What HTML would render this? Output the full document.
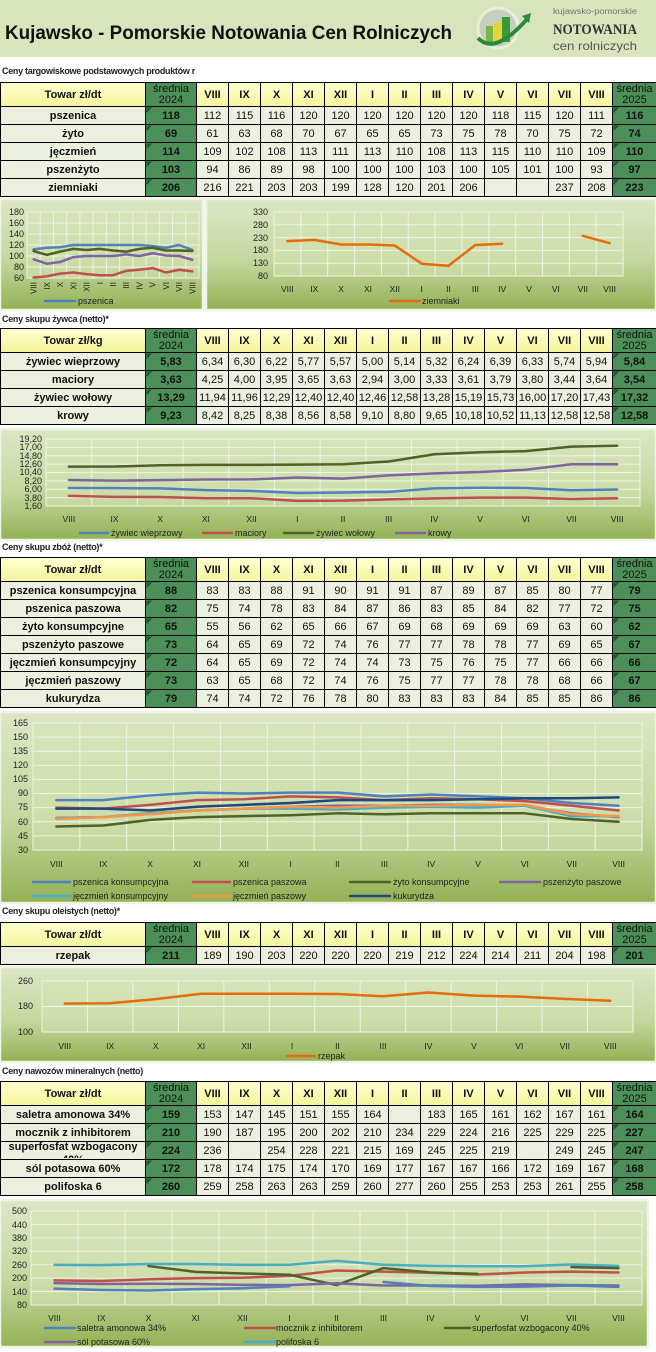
<!DOCTYPE html>
<html><head><meta charset="utf-8">
<style>
*{margin:0;padding:0;box-sizing:border-box}
body{width:656px;height:1352px;position:relative;background:#fff;font-family:"Liberation Sans",Arial,sans-serif;overflow:hidden}
.cap{position:absolute;left:2px;font-size:9px;font-weight:bold;color:#222;letter-spacing:-0.3px;white-space:nowrap}
table{position:absolute;left:0;border-collapse:collapse;table-layout:fixed;width:656px;font-size:11px;color:#111}
td{border:1px solid #000;text-align:center;padding:0;height:18px;background:#ebf1de;white-space:nowrap;overflow:hidden}
td.n{font-weight:bold}
td.s{background:#4d8f58;font-weight:bold;color:#111;background-image:linear-gradient(135deg,#1f5a2a 0,#1f5a2a 4px,transparent 4px)}
tr.h td{height:24px;font-weight:bold;background:linear-gradient(#ffffd0,#f4f49a);line-height:12px;white-space:normal}
tr.h td.s{background:#4d8f58;font-weight:normal;color:#111;font-size:11px;white-space:normal;line-height:11px}
</style></head><body>
<div style="position:absolute;left:0;top:0;width:656px;height:57px;background:#d8e4bc"></div>
<svg style="position:absolute;left:0;top:0" width="656" height="60">
<text x="5" y="39" font-family="Liberation Sans" font-size="19" font-weight="bold" fill="#111" textLength="447" lengthAdjust="spacingAndGlyphs">Kujawsko - Pomorskie Notowania Cen Rolniczych</text>
<circle cx="498" cy="28" r="20" fill="#c8cfc0" stroke="#e8efd8" stroke-width="3"/>
<rect x="486" y="26" width="7" height="16" fill="#7ab648"/>
<rect x="494" y="22" width="7" height="20" fill="#e6d23a"/>
<rect x="502" y="17" width="8" height="25" fill="#3a9a3a"/>
<path d="M478 38 Q495 56 528 18" stroke="#2a8a3a" stroke-width="4" fill="none"/>
<path d="M522 16 L531 13 L529 23 Z" fill="#2a8a3a"/>
<text x="553" y="14" font-size="8" fill="#777" textLength="84" lengthAdjust="spacingAndGlyphs">kujawsko-pomorskie</text>
<text x="553" y="34" font-size="15" font-weight="bold" fill="#333" font-family="Liberation Serif" textLength="84" lengthAdjust="spacingAndGlyphs">NOTOWANIA</text>
<text x="553" y="50" font-size="12" fill="#555" textLength="84" lengthAdjust="spacingAndGlyphs">cen rolniczych</text>
</svg>

<div class="cap" style="top:66px">Ceny targowiskowe podstawowych produktów r</div>
<table style="top:82px">
<colgroup><col style="width:145px"><col style="width:51px"><col span="13" style="width:32px"><col style="width:44px"></colgroup>
<tr class="h"><td>Towar zł/dt</td><td class="s">średnia 2024</td><td>VIII</td><td>IX</td><td>X</td><td>XI</td><td>XII</td><td>I</td><td>II</td><td>III</td><td>IV</td><td>V</td><td>VI</td><td>VII</td><td>VIII</td><td class="s">średnia 2025</td></tr>
<tr><td class="n">pszenica</td><td class="s">118</td><td>112</td><td>115</td><td>116</td><td>120</td><td>120</td><td>120</td><td>120</td><td>120</td><td>120</td><td>118</td><td>115</td><td>120</td><td>111</td><td class="s">116</td></tr>
<tr><td class="n">żyto</td><td class="s">69</td><td>61</td><td>63</td><td>68</td><td>70</td><td>67</td><td>65</td><td>65</td><td>73</td><td>75</td><td>78</td><td>70</td><td>75</td><td>72</td><td class="s">74</td></tr>
<tr><td class="n">jęczmień</td><td class="s">114</td><td>109</td><td>102</td><td>108</td><td>113</td><td>111</td><td>113</td><td>110</td><td>108</td><td>113</td><td>115</td><td>110</td><td>110</td><td>109</td><td class="s">110</td></tr>
<tr><td class="n">pszenżyto</td><td class="s">103</td><td>94</td><td>86</td><td>89</td><td>98</td><td>100</td><td>100</td><td>100</td><td>103</td><td>100</td><td>105</td><td>101</td><td>100</td><td>93</td><td class="s">97</td></tr>
<tr><td class="n">ziemniaki</td><td class="s">206</td><td>216</td><td>221</td><td>203</td><td>203</td><td>199</td><td>128</td><td>120</td><td>201</td><td>206</td><td></td><td></td><td>237</td><td>208</td><td class="s">223</td></tr>
</table>

<div class="cap" style="top:314px">Ceny skupu żywca (netto)*</div>
<table style="top:328px">
<colgroup><col style="width:145px"><col style="width:51px"><col span="13" style="width:32px"><col style="width:44px"></colgroup>
<tr class="h"><td>Towar zł/kg</td><td class="s">średnia 2024</td><td>VIII</td><td>IX</td><td>X</td><td>XI</td><td>XII</td><td>I</td><td>II</td><td>III</td><td>IV</td><td>V</td><td>VI</td><td>VII</td><td>VIII</td><td class="s">średnia 2025</td></tr>
<tr><td class="n">żywiec wieprzowy</td><td class="s">5,83</td><td>6,34</td><td>6,30</td><td>6,22</td><td>5,77</td><td>5,57</td><td>5,00</td><td>5,14</td><td>5,32</td><td>6,24</td><td>6,39</td><td>6,33</td><td>5,74</td><td>5,94</td><td class="s">5,84</td></tr>
<tr><td class="n">maciory</td><td class="s">3,63</td><td>4,25</td><td>4,00</td><td>3,95</td><td>3,65</td><td>3,63</td><td>2,94</td><td>3,00</td><td>3,33</td><td>3,61</td><td>3,79</td><td>3,80</td><td>3,44</td><td>3,64</td><td class="s">3,54</td></tr>
<tr><td class="n">żywiec wołowy</td><td class="s">13,29</td><td>11,94</td><td>11,96</td><td>12,29</td><td>12,40</td><td>12,40</td><td>12,46</td><td>12,58</td><td>13,28</td><td>15,19</td><td>15,73</td><td>16,00</td><td>17,20</td><td>17,43</td><td class="s">17,32</td></tr>
<tr><td class="n">krowy</td><td class="s">9,23</td><td>8,42</td><td>8,25</td><td>8,38</td><td>8,56</td><td>8,58</td><td>9,10</td><td>8,80</td><td>9,65</td><td>10,18</td><td>10,52</td><td>11,13</td><td>12,58</td><td>12,58</td><td class="s">12,58</td></tr>
</table>

<div class="cap" style="top:542px">Ceny skupu zbóż (netto)*</div>
<table style="top:557px">
<colgroup><col style="width:145px"><col style="width:51px"><col span="13" style="width:32px"><col style="width:44px"></colgroup>
<tr class="h"><td>Towar zł/dt</td><td class="s">średnia 2024</td><td>VIII</td><td>IX</td><td>X</td><td>XI</td><td>XII</td><td>I</td><td>II</td><td>III</td><td>IV</td><td>V</td><td>VI</td><td>VII</td><td>VIII</td><td class="s">średnia 2025</td></tr>
<tr><td class="n">pszenica konsumpcyjna</td><td class="s">88</td><td>83</td><td>83</td><td>88</td><td>91</td><td>90</td><td>91</td><td>91</td><td>87</td><td>89</td><td>87</td><td>85</td><td>80</td><td>77</td><td class="s">79</td></tr>
<tr><td class="n">pszenica paszowa</td><td class="s">82</td><td>75</td><td>74</td><td>78</td><td>83</td><td>84</td><td>87</td><td>86</td><td>83</td><td>85</td><td>84</td><td>82</td><td>77</td><td>72</td><td class="s">75</td></tr>
<tr><td class="n">żyto konsumpcyjne</td><td class="s">65</td><td>55</td><td>56</td><td>62</td><td>65</td><td>66</td><td>67</td><td>69</td><td>68</td><td>69</td><td>69</td><td>69</td><td>63</td><td>60</td><td class="s">62</td></tr>
<tr><td class="n">pszenżyto paszowe</td><td class="s">73</td><td>64</td><td>65</td><td>69</td><td>72</td><td>74</td><td>76</td><td>77</td><td>77</td><td>78</td><td>78</td><td>77</td><td>69</td><td>65</td><td class="s">67</td></tr>
<tr><td class="n">jęczmień konsumpcyjny</td><td class="s">72</td><td>64</td><td>65</td><td>69</td><td>72</td><td>74</td><td>74</td><td>73</td><td>75</td><td>76</td><td>75</td><td>77</td><td>66</td><td>66</td><td class="s">66</td></tr>
<tr><td class="n">jęczmień paszowy</td><td class="s">73</td><td>63</td><td>65</td><td>68</td><td>72</td><td>74</td><td>76</td><td>75</td><td>77</td><td>77</td><td>78</td><td>78</td><td>68</td><td>66</td><td class="s">67</td></tr>
<tr><td class="n">kukurydza</td><td class="s">79</td><td>74</td><td>74</td><td>72</td><td>76</td><td>78</td><td>80</td><td>83</td><td>83</td><td>83</td><td>84</td><td>85</td><td>85</td><td>86</td><td class="s">86</td></tr>
</table>

<div class="cap" style="top:906px">Ceny skupu oleistych (netto)*</div>
<table style="top:922px">
<colgroup><col style="width:145px"><col style="width:51px"><col span="13" style="width:32px"><col style="width:44px"></colgroup>
<tr class="h"><td>Towar zł/dt</td><td class="s">średnia 2024</td><td>VIII</td><td>IX</td><td>X</td><td>XI</td><td>XII</td><td>I</td><td>II</td><td>III</td><td>IV</td><td>V</td><td>VI</td><td>VII</td><td>VIII</td><td class="s">średnia 2025</td></tr>
<tr><td class="n">rzepak</td><td class="s">211</td><td>189</td><td>190</td><td>203</td><td>220</td><td>220</td><td>220</td><td>219</td><td>212</td><td>224</td><td>214</td><td>211</td><td>204</td><td>198</td><td class="s">201</td></tr>
</table>

<div class="cap" style="top:1066px">Ceny nawozów mineralnych (netto)</div>
<table style="top:1081px">
<colgroup><col style="width:145px"><col style="width:51px"><col span="13" style="width:32px"><col style="width:44px"></colgroup>
<tr class="h"><td>Towar zł/dt</td><td class="s">średnia 2024</td><td>VIII</td><td>IX</td><td>X</td><td>XI</td><td>XII</td><td>I</td><td>II</td><td>III</td><td>IV</td><td>V</td><td>VI</td><td>VII</td><td>VIII</td><td class="s">średnia 2025</td></tr>
<tr><td class="n">saletra amonowa 34%</td><td class="s">159</td><td>153</td><td>147</td><td>145</td><td>151</td><td>155</td><td>164</td><td></td><td>183</td><td>165</td><td>161</td><td>162</td><td>167</td><td>161</td><td class="s">164</td></tr>
<tr><td class="n">mocznik z inhibitorem</td><td class="s">210</td><td>190</td><td>187</td><td>195</td><td>200</td><td>202</td><td>210</td><td>234</td><td>229</td><td>224</td><td>216</td><td>225</td><td>229</td><td>225</td><td class="s">227</td></tr>
<tr><td class="n"><div style="height:17px;overflow:hidden;white-space:normal;line-height:13px;margin-top:-3px;padding-top:0">superfosfat wzbogacony 40%</div></td><td class="s">224</td><td>236</td><td></td><td>254</td><td>228</td><td>221</td><td>215</td><td>169</td><td>245</td><td>225</td><td>219</td><td></td><td>249</td><td>245</td><td class="s">247</td></tr>
<tr><td class="n">sól potasowa 60%</td><td class="s">172</td><td>178</td><td>174</td><td>175</td><td>174</td><td>170</td><td>169</td><td>177</td><td>167</td><td>167</td><td>166</td><td>172</td><td>169</td><td>167</td><td class="s">168</td></tr>
<tr><td class="n">polifoska 6</td><td class="s">260</td><td>259</td><td>258</td><td>263</td><td>263</td><td>259</td><td>260</td><td>277</td><td>260</td><td>255</td><td>253</td><td>253</td><td>261</td><td>255</td><td class="s">258</td></tr>
</table>

<svg style="position:absolute;left:0;top:0" width="656" height="1352" font-family="Liberation Sans" font-size="9" fill="#222">
<defs>
<linearGradient id="bg" x1="0" y1="0" x2="0" y2="1">
<stop offset="0" stop-color="#dce7c6"/><stop offset="0.55" stop-color="#c5d89f"/><stop offset="1" stop-color="#93b155"/>
</linearGradient>
</defs>
<g fill="none" stroke-width="2.5" stroke-linejoin="round" stroke-linecap="round">
<rect x="0" y="199" width="203" height="111" fill="url(#bg)" stroke="#eef3e2"/>
<rect x="27" y="212" width="172" height="66" fill="#d5e3b6" fill-opacity="0.5"/>
<path transform="translate(27,212) scale(13.23,66)" vector-effect="non-scaling-stroke" stroke="#eef3e2" stroke-width="1" d="M0 0V1M1 0V1M2 0V1M3 0V1M4 0V1M5 0V1M6 0V1M7 0V1M8 0V1M9 0V1M10 0V1M11 0V1M12 0V1M13 0V1"/>
<path transform="translate(27,212) scale(172,11)" vector-effect="non-scaling-stroke" stroke="#eef3e2" stroke-width="1" d="M0 0H1M0 1H1M0 2H1M0 3H1M0 4H1M0 5H1M0 6H1"/>
<g transform="translate(33.6,311) scale(13.23,-0.55)">
<polyline vector-effect="non-scaling-stroke" stroke="#4f81bd" points="0,112 1,115 2,116 3,120 4,120 5,120 6,120 7,120 8,120 9,118 10,115 11,120 12,111"/>
<polyline vector-effect="non-scaling-stroke" stroke="#c0504d" points="0,61 1,63 2,68 3,70 4,67 5,65 6,65 7,73 8,75 9,78 10,70 11,75 12,72"/>
<polyline vector-effect="non-scaling-stroke" stroke="#4f6228" points="0,109 1,102 2,108 3,113 4,111 5,113 6,110 7,108 8,113 9,115 10,110 11,110 12,109"/>
<polyline vector-effect="non-scaling-stroke" stroke="#8064a2" points="0,94 1,86 2,89 3,98 4,100 5,100 6,100 7,103 8,100 9,105 10,101 11,100 12,93"/>
</g>
<line x1="45" y1="301" x2="75" y2="301" stroke="#4f81bd"/>
<rect x="206" y="199" width="450" height="111" fill="url(#bg)" stroke="#eef3e2"/>
<rect x="274" y="212" width="349" height="64" fill="#d5e3b6" fill-opacity="0.5"/>
<path transform="translate(274,212) scale(26.85,64)" vector-effect="non-scaling-stroke" stroke="#eef3e2" stroke-width="1" d="M0 0V1M1 0V1M2 0V1M3 0V1M4 0V1M5 0V1M6 0V1M7 0V1M8 0V1M9 0V1M10 0V1M11 0V1M12 0V1M13 0V1"/>
<path transform="translate(274,212) scale(349,12.8)" vector-effect="non-scaling-stroke" stroke="#eef3e2" stroke-width="1" d="M0 0H1M0 1H1M0 2H1M0 3H1M0 4H1M0 5H1"/>
<g transform="translate(287.4,296.48) scale(26.85,-0.256)">
<polyline vector-effect="non-scaling-stroke" stroke="#e46c0a" points="0,216 1,221 2,203 3,203 4,199 5,128 6,120 7,201 8,206"/>
<polyline vector-effect="non-scaling-stroke" stroke="#e46c0a" points="11,237 12,208"/>
</g>
<line x1="390" y1="301" x2="420" y2="301" stroke="#e46c0a"/>
<rect x="0" y="429" width="656" height="111" fill="url(#bg)" stroke="#eef3e2"/>
<rect x="46" y="439" width="594" height="67" fill="#d5e3b6" fill-opacity="0.5"/>
<path transform="translate(46,439) scale(45.69,67)" vector-effect="non-scaling-stroke" stroke="#eef3e2" stroke-width="1" d="M0 0V1M1 0V1M2 0V1M3 0V1M4 0V1M5 0V1M6 0V1M7 0V1M8 0V1M9 0V1M10 0V1M11 0V1M12 0V1M13 0V1"/>
<path transform="translate(46,439) scale(594,8.375)" vector-effect="non-scaling-stroke" stroke="#eef3e2" stroke-width="1" d="M0 0H1M0 1H1M0 2H1M0 3H1M0 4H1M0 5H1M0 6H1M0 7H1M0 8H1"/>
<g transform="translate(68.85,512.09) scale(45.69,-3.807)">
<polyline vector-effect="non-scaling-stroke" stroke="#4f81bd" points="0,6.34 1,6.30 2,6.22 3,5.77 4,5.57 5,5.00 6,5.14 7,5.32 8,6.24 9,6.39 10,6.33 11,5.74 12,5.94"/>
<polyline vector-effect="non-scaling-stroke" stroke="#c0504d" points="0,4.25 1,4.00 2,3.95 3,3.65 4,3.63 5,2.94 6,3.00 7,3.33 8,3.61 9,3.79 10,3.80 11,3.44 12,3.64"/>
<polyline vector-effect="non-scaling-stroke" stroke="#4f6228" points="0,11.94 1,11.96 2,12.29 3,12.40 4,12.40 5,12.46 6,12.58 7,13.28 8,15.19 9,15.73 10,16.00 11,17.20 12,17.43"/>
<polyline vector-effect="non-scaling-stroke" stroke="#8064a2" points="0,8.42 1,8.25 2,8.38 3,8.56 4,8.58 5,9.10 6,8.80 7,9.65 8,10.18 9,10.52 10,11.13 11,12.58 12,12.58"/>
</g>
<line x1="80" y1="533" x2="108" y2="533" stroke="#4f81bd"/>
<line x1="203" y1="533" x2="232" y2="533" stroke="#c0504d"/>
<line x1="284" y1="533" x2="313" y2="533" stroke="#4f6228"/>
<line x1="396" y1="533" x2="425" y2="533" stroke="#8064a2"/>
<rect x="0" y="712" width="656" height="191" fill="url(#bg)" stroke="#eef3e2"/>
<rect x="33" y="723" width="609" height="127" fill="#d5e3b6" fill-opacity="0.5"/>
<path transform="translate(33,723) scale(46.85,127)" vector-effect="non-scaling-stroke" stroke="#eef3e2" stroke-width="1" d="M0 0V1M1 0V1M2 0V1M3 0V1M4 0V1M5 0V1M6 0V1M7 0V1M8 0V1M9 0V1M10 0V1M11 0V1M12 0V1M13 0V1"/>
<path transform="translate(33,723) scale(609,14.11)" vector-effect="non-scaling-stroke" stroke="#eef3e2" stroke-width="1" d="M0 0H1M0 1H1M0 2H1M0 3H1M0 4H1M0 5H1M0 6H1M0 7H1M0 8H1M0 9H1"/>
<g transform="translate(56.42,878.22) scale(46.85,-0.9407)">
<polyline vector-effect="non-scaling-stroke" stroke="#4f81bd" points="0,83 1,83 2,88 3,91 4,90 5,91 6,91 7,87 8,89 9,87 10,85 11,80 12,77"/>
<polyline vector-effect="non-scaling-stroke" stroke="#c0504d" points="0,75 1,74 2,78 3,83 4,84 5,87 6,86 7,83 8,85 9,84 10,82 11,77 12,72"/>
<polyline vector-effect="non-scaling-stroke" stroke="#4f6228" points="0,55 1,56 2,62 3,65 4,66 5,67 6,69 7,68 8,69 9,69 10,69 11,63 12,60"/>
<polyline vector-effect="non-scaling-stroke" stroke="#8064a2" points="0,64 1,65 2,69 3,72 4,74 5,76 6,77 7,77 8,78 9,78 10,77 11,69 12,65"/>
<polyline vector-effect="non-scaling-stroke" stroke="#4bacc6" points="0,64 1,65 2,69 3,72 4,74 5,74 6,73 7,75 8,76 9,75 10,77 11,66 12,66"/>
<polyline vector-effect="non-scaling-stroke" stroke="#f79646" points="0,63 1,65 2,68 3,72 4,74 5,76 6,75 7,77 8,77 9,78 10,78 11,68 12,66"/>
<polyline vector-effect="non-scaling-stroke" stroke="#1f497d" points="0,74 1,74 2,72 3,76 4,78 5,80 6,83 7,83 8,83 9,84 10,85 11,85 12,86"/>
</g>
<line x1="33" y1="882" x2="70" y2="882" stroke="#4f81bd"/>
<line x1="193" y1="882" x2="230" y2="882" stroke="#c0504d"/>
<line x1="350" y1="882" x2="390" y2="882" stroke="#4f6228"/>
<line x1="500" y1="882" x2="540" y2="882" stroke="#8064a2"/>
<line x1="33" y1="896" x2="70" y2="896" stroke="#4bacc6"/>
<line x1="193" y1="896" x2="230" y2="896" stroke="#f79646"/>
<line x1="350" y1="896" x2="390" y2="896" stroke="#1f497d"/>
<rect x="0" y="967" width="656" height="95" fill="url(#bg)" stroke="#eef3e2"/>
<rect x="42" y="981" width="591" height="51" fill="#d5e3b6" fill-opacity="0.5"/>
<path transform="translate(42,981) scale(45.46,51)" vector-effect="non-scaling-stroke" stroke="#eef3e2" stroke-width="1" d="M0 0V1M1 0V1M2 0V1M3 0V1M4 0V1M5 0V1M6 0V1M7 0V1M8 0V1M9 0V1M10 0V1M11 0V1M12 0V1M13 0V1"/>
<path transform="translate(42,981) scale(591,25.5)" vector-effect="non-scaling-stroke" stroke="#eef3e2" stroke-width="1" d="M0 0H1M0 1H1M0 2H1"/>
<g transform="translate(64.73,1063.9) scale(45.46,-0.319)">
<polyline vector-effect="non-scaling-stroke" stroke="#e46c0a" points="0,189 1,190 2,203 3,220 4,220 5,220 6,219 7,212 8,224 9,214 10,211 11,204 12,198"/>
</g>
<line x1="287" y1="1056" x2="315" y2="1056" stroke="#e46c0a"/>
<rect x="0" y="1200" width="648" height="147" fill="url(#bg)" stroke="#eef3e2"/>
<rect x="31" y="1211" width="611" height="94" fill="#d5e3b6" fill-opacity="0.5"/>
<path transform="translate(31,1211) scale(47,94)" vector-effect="non-scaling-stroke" stroke="#eef3e2" stroke-width="1" d="M0 0V1M1 0V1M2 0V1M3 0V1M4 0V1M5 0V1M6 0V1M7 0V1M8 0V1M9 0V1M10 0V1M11 0V1M12 0V1M13 0V1"/>
<path transform="translate(31,1211) scale(611,13.43)" vector-effect="non-scaling-stroke" stroke="#eef3e2" stroke-width="1" d="M0 0H1M0 1H1M0 2H1M0 3H1M0 4H1M0 5H1M0 6H1M0 7H1"/>
<g transform="translate(54.5,1322.9) scale(47,-0.2238)">
<polyline vector-effect="non-scaling-stroke" stroke="#4bacc6" points="0,259 1,258 2,263 3,263 4,259 5,260 6,277 7,260 8,255 9,253 10,253 11,261 12,255"/>
<polyline vector-effect="non-scaling-stroke" stroke="#c0504d" points="0,190 1,187 2,195 3,200 4,202 5,210 6,234 7,229 8,224 9,216 10,225 11,229 12,225"/>
<polyline vector-effect="non-scaling-stroke" stroke="#4f6228" points="2,254 3,228 4,221 5,215 6,169 7,245 8,225 9,219"/>
<polyline vector-effect="non-scaling-stroke" stroke="#4f6228" points="11,249 12,245"/>
<polyline vector-effect="non-scaling-stroke" stroke="#8064a2" points="0,178 1,174 2,175 3,174 4,170 5,169 6,177 7,167 8,167 9,166 10,172 11,169 12,167"/>
<polyline vector-effect="non-scaling-stroke" stroke="#4f81bd" points="0,153 1,147 2,145 3,151 4,155 5,164"/>
<polyline vector-effect="non-scaling-stroke" stroke="#4f81bd" points="7,183 8,165 9,161 10,162 11,167 12,161"/>
</g>
<line x1="45" y1="1328" x2="75" y2="1328" stroke="#4f81bd"/>
<line x1="245" y1="1328" x2="275" y2="1328" stroke="#c0504d"/>
<line x1="445" y1="1328" x2="470" y2="1328" stroke="#4f6228"/>
<line x1="45" y1="1342" x2="75" y2="1342" stroke="#8064a2"/>
<line x1="245" y1="1342" x2="275" y2="1342" stroke="#4bacc6"/>
</g>

<g text-anchor="end" font-size="9">
<text x="24" y="215">180</text><text x="24" y="226">160</text><text x="24" y="237">140</text><text x="24" y="248">120</text><text x="24" y="259">100</text><text x="24" y="270">80</text><text x="24" y="281">60</text>
<text x="268" y="215">330</text><text x="268" y="228">280</text><text x="268" y="241">230</text><text x="268" y="253">180</text><text x="268" y="266">130</text><text x="268" y="279">80</text>
<text x="42" y="442">19,20</text><text x="42" y="450">17,00</text><text x="42" y="459">14,80</text><text x="42" y="467">12,60</text><text x="42" y="475">10,40</text><text x="42" y="484">8,20</text><text x="42" y="492">6,00</text><text x="42" y="501">3,80</text><text x="42" y="509">1,60</text>
<text x="28" y="726">165</text><text x="28" y="740">150</text><text x="28" y="754">135</text><text x="28" y="768">120</text><text x="28" y="782">105</text><text x="28" y="796">90</text><text x="28" y="810">75</text><text x="28" y="825">60</text><text x="28" y="839">45</text><text x="28" y="853">30</text>
<text x="33" y="984">260</text><text x="33" y="1009">180</text><text x="33" y="1035">100</text>
<text x="27" y="1214">500</text><text x="27" y="1228">440</text><text x="27" y="1241">380</text><text x="27" y="1254">320</text><text x="27" y="1268">260</text><text x="27" y="1281">200</text><text x="27" y="1295">140</text><text x="27" y="1308">80</text>
</g>
<g text-anchor="end" font-size="8">
<text transform="translate(36.6,282) rotate(-90)">VIII</text>
<text transform="translate(49.8,282) rotate(-90)">IX</text>
<text transform="translate(63.1,282) rotate(-90)">X</text>
<text transform="translate(76.3,282) rotate(-90)">XI</text>
<text transform="translate(89.5,282) rotate(-90)">XII</text>
<text transform="translate(102.8,282) rotate(-90)">I</text>
<text transform="translate(116,282) rotate(-90)">II</text>
<text transform="translate(129.2,282) rotate(-90)">III</text>
<text transform="translate(142.4,282) rotate(-90)">IV</text>
<text transform="translate(155.7,282) rotate(-90)">V</text>
<text transform="translate(168.9,282) rotate(-90)">VI</text>
<text transform="translate(182.1,282) rotate(-90)">VII</text>
<text transform="translate(195.4,282) rotate(-90)">VIII</text>
</g>
<g text-anchor="middle" font-size="8.5">
<text x="287.4" y="292">VIII</text><text x="314.3" y="292">IX</text><text x="341.1" y="292">X</text><text x="368" y="292">XI</text><text x="394.8" y="292">XII</text><text x="421.7" y="292">I</text><text x="448.5" y="292">II</text><text x="475.4" y="292">III</text><text x="502.2" y="292">IV</text><text x="529.1" y="292">V</text><text x="555.9" y="292">VI</text><text x="582.8" y="292">VII</text><text x="609.6" y="292">VIII</text>
<text x="68.9" y="522">VIII</text><text x="114.5" y="522">IX</text><text x="160.2" y="522">X</text><text x="205.9" y="522">XI</text><text x="251.6" y="522">XII</text><text x="297.3" y="522">I</text><text x="343" y="522">II</text><text x="388.7" y="522">III</text><text x="434.4" y="522">IV</text><text x="480.1" y="522">V</text><text x="525.8" y="522">VI</text><text x="571.4" y="522">VII</text><text x="617.1" y="522">VIII</text>
<text x="56.4" y="867">VIII</text><text x="103.3" y="867">IX</text><text x="150.1" y="867">X</text><text x="197" y="867">XI</text><text x="243.8" y="867">XII</text><text x="290.7" y="867">I</text><text x="337.5" y="867">II</text><text x="384.4" y="867">III</text><text x="431.2" y="867">IV</text><text x="478.1" y="867">V</text><text x="524.9" y="867">VI</text><text x="571.8" y="867">VII</text><text x="618.6" y="867">VIII</text>
<text x="64.7" y="1049">VIII</text><text x="110.2" y="1049">IX</text><text x="155.7" y="1049">X</text><text x="201.1" y="1049">XI</text><text x="246.6" y="1049">XII</text><text x="292" y="1049">I</text><text x="337.5" y="1049">II</text><text x="383" y="1049">III</text><text x="428.4" y="1049">IV</text><text x="473.9" y="1049">V</text><text x="519.3" y="1049">VI</text><text x="564.8" y="1049">VII</text><text x="610.3" y="1049">VIII</text>
<text x="54.5" y="1321">VIII</text><text x="101.5" y="1321">IX</text><text x="148.5" y="1321">X</text><text x="195.5" y="1321">XI</text><text x="242.5" y="1321">XII</text><text x="289.5" y="1321">I</text><text x="336.5" y="1321">II</text><text x="383.5" y="1321">III</text><text x="430.5" y="1321">IV</text><text x="477.5" y="1321">V</text><text x="524.5" y="1321">VI</text><text x="571.5" y="1321">VII</text><text x="618.5" y="1321">VIII</text>
</g>
<g font-size="9">
<text x="78" y="304">pszenica</text>
<text x="422" y="304">ziemniaki</text>
<text x="111" y="536">żywiec wieprzowy</text><text x="235" y="536">maciory</text><text x="316" y="536">żywiec wołowy</text><text x="428" y="536">krowy</text>
<text x="73" y="885">pszenica konsumpcyjna</text><text x="233" y="885">pszenica paszowa</text><text x="393" y="885">żyto konsumpcyjne</text><text x="543" y="885">pszenżyto paszowe</text>
<text x="73" y="899">jęczmień konsumpcyjny</text><text x="233" y="899">jęczmień paszowy</text><text x="393" y="899">kukurydza</text>
<text x="318" y="1059">rzepak</text>
<text x="77" y="1331">saletra amonowa 34%</text><text x="276" y="1331">mocznik z inhibitorem</text><text x="472" y="1331">superfosfat wzbogacony 40%</text>
<text x="77" y="1345">sól potasowa 60%</text><text x="276" y="1345">polifoska 6</text>
</g>
</svg>
</body></html>
